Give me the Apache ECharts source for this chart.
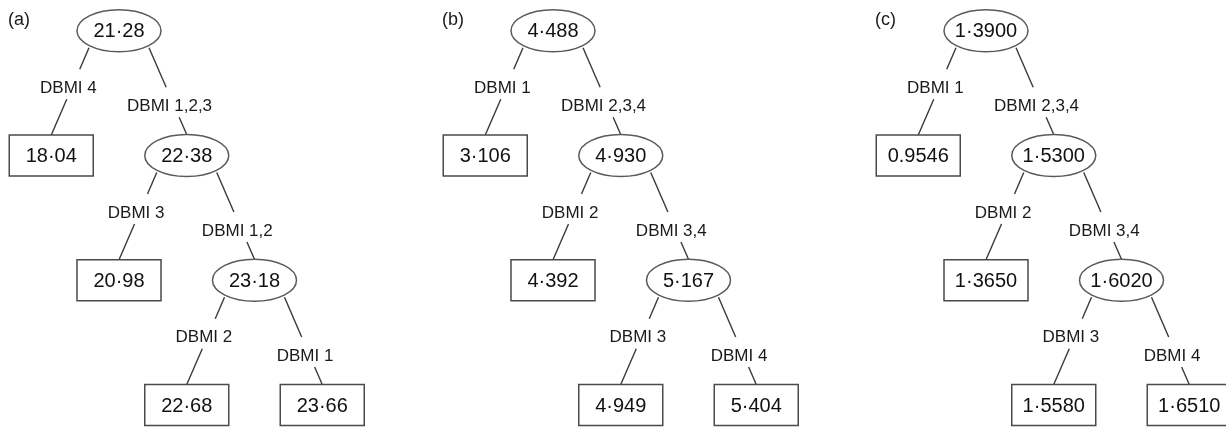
<!DOCTYPE html>
<html>
<head>
<meta charset="utf-8">
<script src="https://cdn.jsdelivr.net/npm/echarts@6/dist/echarts.min.js"></script>
<style>html,body{margin:0;padding:0;background:#fff}#c{width:1226px;height:430px}</style>
</head>
<body>
<div id="c"></div>
<script>
// ---------- data ----------
const panelLabels = ['(a)', '(b)', '(c)'];
const nodeValuesA = ['21·28', '18·04', '22·38', '20·98', '23·18', '22·68', '23·66'];
const branchLabelsA = ['DBMI 4', 'DBMI 1,2,3', 'DBMI 3', 'DBMI 1,2', 'DBMI 2', 'DBMI 1'];
const nodeValuesB = ['4·488', '3·106', '4·930', '4·392', '5·167', '4·949', '5·404'];
const branchLabelsB = ['DBMI 1', 'DBMI 2,3,4', 'DBMI 2', 'DBMI 3,4', 'DBMI 3', 'DBMI 4'];
const nodeValuesC = ['1·3900', '0.9546', '1·5300', '1·3650', '1·6020', '1·5580', '1·6510'];
const branchLabelsC = ['DBMI 1', 'DBMI 2,3,4', 'DBMI 2', 'DBMI 3,4', 'DBMI 3', 'DBMI 4'];
// tree structure: parent index of each node, and which side of the parent it hangs on
const parentOf = [-1, 0, 0, 2, 2, 4, 4];
const sideOf = ['', 'L', 'R', 'L', 'R', 'L', 'R'];

// ---------- layout from structure ----------
const FONT = '"Liberation Sans", Arial, Helvetica, sans-serif';
const depth = [], col = [], isLeaf = [];
parentOf.forEach((p, i) => {
  if (p < 0) { depth[i] = 0; col[i] = 0; }
  else { depth[i] = depth[p] + 1; col[i] = col[p] + (sideOf[i] === 'L' ? -1 : 1); }
});
parentOf.forEach((p, i) => { isLeaf[i] = !parentOf.includes(i); });

const panels = [
  { label: panelLabels[0], values: nodeValuesA, branches: branchLabelsA },
  { label: panelLabels[1], values: nodeValuesB, branches: branchLabelsB },
  { label: panelLabels[2], values: nodeValuesC, branches: branchLabelsC }
];
const panelOffset = [0, 434, 867];
const COLW = 67.75, ROWH = 125.8;
const EW = 42, EH = 21, BW = 42, BH = 20.5;

const grids = [], xAxes = [], yAxes = [], series = [], titles = [];
panels.forEach((pn, k) => {
  grids.push({ left: 119 - 1.5 * COLW + panelOffset[k], top: 31 - 0.2 * ROWH, width: 5 * COLW, height: 3.4 * ROWH, containLabel: false });
  xAxes.push({ gridIndex: k, type: 'value', min: -1.5, max: 3.5, show: false });
  yAxes.push({ gridIndex: k, type: 'value', min: -0.2, max: 3.2, inverse: true, show: false });
  titles.push({ text: pn.label, left: 8 + panelOffset[k], top: 11, padding: 0,
    textStyle: { fontFamily: FONT, fontSize: 18, fontWeight: 'normal', color: '#1a1a1a' } });

  // edges
  const edgeData = [];
  for (let i = 1; i < parentOf.length; i++) {
    const p = parentOf[i];
    edgeData.push([col[p], depth[p], col[i], depth[i], i]);
  }
  series.push({
    type: 'custom', xAxisIndex: k, yAxisIndex: k, z: 1, silent: true,
    encode: { x: [0, 2], y: [1, 3] },
    data: edgeData,
    renderItem: (params, api) => {
      const P = api.coord([api.value(0), api.value(1)]);
      const C = api.coord([api.value(2), api.value(3)]);
      const ci = api.value(4);
      const left = sideOf[ci] === 'L';
      const S = [P[0] + (left ? -30 : 30), P[1] + 17];
      const E = [C[0], C[1] - (isLeaf[ci] ? BH : EH)];
      const t = left ? 0.44 : 0.65;
      const xAt = y => S[0] + (E[0] - S[0]) * (y - S[1]) / (E[1] - S[1]);
      const ly = S[1] + t * (E[1] - S[1]);
      const y1 = ly - 17, y2 = ly + 13;
      const ls = { stroke: '#3a3a3a', lineWidth: 1.4 };
      return { type: 'group', children: [
        { type: 'line', shape: { x1: S[0], y1: S[1], x2: xAt(y1), y2: y1 }, style: ls },
        { type: 'line', shape: { x1: xAt(y2), y1: y2, x2: E[0], y2: E[1] }, style: ls },
        { type: 'text', x: xAt(ly) - 4, y: ly + 2, style: { text: pn.branches[ci - 1], fontFamily: FONT, fontSize: 17, fill: '#1a1a1a', align: 'center', verticalAlign: 'middle' } }
      ] };
    }
  });

  // nodes
  series.push({
    type: 'custom', xAxisIndex: k, yAxisIndex: k, z: 2, silent: true,
    encode: { x: 0, y: 1 },
    data: parentOf.map((p, i) => [col[i], depth[i], i]),
    renderItem: (params, api) => {
      const i = api.value(2);
      const c = api.coord([api.value(0), api.value(1)]);
      const shapeEl = isLeaf[i]
        ? { type: 'rect', shape: { x: c[0] - BW, y: c[1] - BH, width: 2 * BW, height: 2 * BH }, style: { fill: '#fff', stroke: '#4a4a4a', lineWidth: 1.5 } }
        : { type: 'ellipse', shape: { cx: c[0], cy: c[1], rx: EW, ry: EH }, style: { fill: '#fff', stroke: '#5a5a5a', lineWidth: 1.5 } };
      return { type: 'group', children: [
        shapeEl,
        { type: 'text', x: c[0], y: c[1] + 1, style: { text: pn.values[i], fontFamily: FONT, fontSize: 20, fill: '#111', align: 'center', verticalAlign: 'middle' } }
      ] };
    }
  });
});

const chart = echarts.init(document.getElementById('c'), null, { renderer: 'canvas' });
chart.setOption({
  animation: false,
  backgroundColor: '#fff',
  title: titles,
  grid: grids,
  xAxis: xAxes,
  yAxis: yAxes,
  series: series
});
</script>
</body>
</html>
